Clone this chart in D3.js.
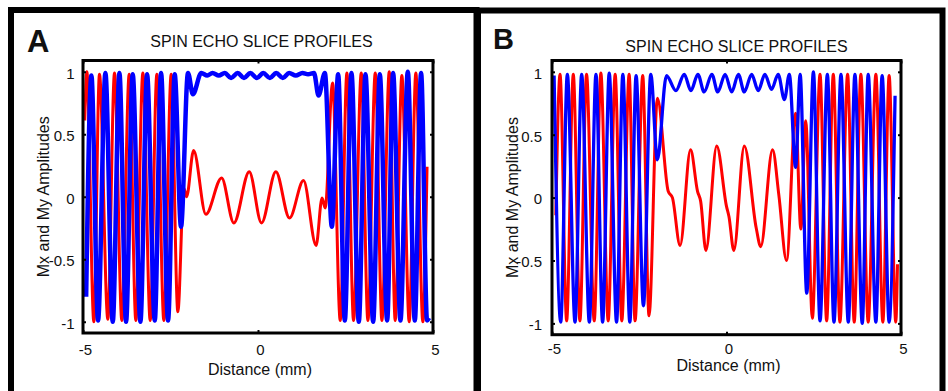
<!DOCTYPE html>
<html>
<head>
<meta charset="utf-8">
<script src="https://cdn.jsdelivr.net/npm/d3@7"></script>
<style>
  body { margin: 0; background: #fff; }
  text { font-family: "Liberation Sans", Arial, sans-serif; fill: #111; }
</style>
</head>
<body>
<div id="chart"></div>
<script>
// tick labels shared by both panels
const xTicks = [-5, 0, 5];
const yTicks = [-1, -0.5, 0, 0.5, 1];

// panel A, [distance mm, amplitude]
const aRed = [
  [-4.95, 0.61], [-4.89, 1.00], [-4.69, -1.00], [-4.53, 0.98], [-4.29, -0.98], [-4.10, 0.99],
  [-3.89, -0.99], [-3.68, 0.98], [-3.49, -0.99], [-3.29, 0.99], [-3.08, -0.99], [-2.89, 0.98],
  [-2.69, -0.99], [-2.48, 0.98], [-2.29, -0.92], [-2.12, 0.07], [-2.04, 0.00], [-1.84, 0.37],
  [-1.49, -0.14], [-1.04, 0.15], [-0.69, -0.21], [-0.25, 0.20], [0.10, -0.21], [0.51, 0.20],
  [0.90, -0.17], [1.30, 0.13], [1.66, -0.39], [1.83, -0.01], [1.92, -0.09], [2.13, 0.91],
  [2.35, -0.99], [2.54, 0.99], [2.73, -0.99], [2.95, 0.99], [3.14, -0.99], [3.35, 0.99],
  [3.54, -0.99], [3.75, 1.00], [3.92, -0.99], [4.11, 0.97], [4.32, -1.00], [4.51, 0.99],
  [4.71, -1.00], [4.83, 0.24]
];
const aBlue = [
  [-4.91, -0.80], [-4.76, 0.97], [-4.57, -0.99], [-4.36, 0.99], [-4.15, -1.00], [-3.96, 0.99],
  [-3.77, -1.00], [-3.58, 0.98], [-3.36, -1.00], [-3.17, 0.98], [-2.95, -0.99], [-2.77, 0.99],
  [-2.57, -0.99], [-2.38, 0.98], [-2.20, -0.24], [-2.00, 0.99], [-1.86, 0.82], [-1.62, 0.99],
  [-1.45, 0.97], [-1.30, 0.99], [-1.12, 0.97], [-0.95, 0.99], [-0.77, 0.95], [-0.58, 0.99],
  [-0.40, 0.95], [-0.22, 0.99], [-0.03, 0.95], [0.15, 0.99], [0.34, 0.95], [0.52, 0.99],
  [0.71, 0.95], [0.89, 0.99], [1.08, 0.97], [1.27, 0.99], [1.43, 0.98], [1.60, 0.99],
  [1.73, 0.81], [1.91, 0.99], [2.11, -0.24], [2.29, 0.98], [2.48, -0.99], [2.67, 0.99],
  [2.88, -1.00], [3.07, 0.98], [3.29, -1.00], [3.48, 0.98], [3.69, -0.99], [3.86, 0.99],
  [4.07, -0.99], [4.28, 1.00], [4.48, -0.99], [4.66, 0.99], [4.83, -0.99], [4.89, -0.97]
];

// panel B
const bRed = [
  [-4.89, -0.14], [-4.77, 0.98], [-4.58, -0.98], [-4.39, 0.98], [-4.20, -0.98], [-4.01, 0.98],
  [-3.79, -0.98], [-3.60, 0.99], [-3.39, -0.98], [-3.19, 0.98], [-3.00, -0.98], [-2.79, 0.98],
  [-2.62, -0.98], [-2.40, 0.97], [-2.22, -0.94], [-1.98, 0.79], [-1.67, 0.05], [-1.55, 0.00],
  [-1.33, -0.38], [-1.03, 0.38], [-0.83, 0.05], [-0.74, -0.03], [-0.59, -0.42], [-0.28, 0.41],
  [0.00, -0.07], [0.07, -0.15], [0.21, -0.42], [0.51, 0.41], [0.85, -0.24], [0.98, -0.39],
  [1.32, 0.38], [1.50, 0.02], [1.72, -0.50], [1.98, 0.67], [2.13, -0.25], [2.27, 0.61],
  [2.46, -0.96], [2.68, 0.98], [2.87, -0.98], [3.06, 0.98], [3.25, -0.99], [3.47, 0.98],
  [3.66, -0.99], [3.85, 0.98], [4.06, -0.99], [4.28, 0.98], [4.48, -0.99], [4.66, 0.97],
  [4.85, -0.99], [4.90, -0.53]
];
const bBlue = [
  [-4.94, 0.97], [-4.75, -0.99], [-4.56, 0.98], [-4.34, -0.99], [-4.15, 0.98], [-3.93, -0.99],
  [-3.74, 0.98], [-3.55, -0.99], [-3.36, 0.99], [-3.15, -0.99], [-2.97, 0.98], [-2.77, -0.99],
  [-2.59, 0.97], [-2.38, -0.86], [-2.17, 0.98], [-1.98, 0.30], [-1.72, 0.97], [-1.45, 0.85],
  [-1.21, 0.98], [-1.02, 0.85], [-0.82, 0.98], [-0.64, 0.84], [-0.42, 0.98], [-0.25, 0.84],
  [-0.04, 0.98], [0.15, 0.84], [0.34, 0.98], [0.51, 0.84], [0.72, 0.98], [0.91, 0.85],
  [1.10, 0.98], [1.29, 0.86], [1.48, 0.98], [1.66, 0.78], [1.80, 0.98], [1.98, 0.24],
  [2.11, 0.98], [2.30, -0.76], [2.49, 1.00], [2.68, -0.98], [2.89, 0.98], [3.08, -0.99],
  [3.28, 0.98], [3.49, -0.99], [3.68, 0.98], [3.89, -1.00], [4.06, 0.98], [4.28, -0.99],
  [4.46, 0.97], [4.66, -0.99], [4.83, 0.81]
];

const width = 948;
const height = 391;

const svg = d3.select("#chart")
  .append("svg")
  .attr("width", width)
  .attr("height", height);

svg.append("rect").attr("width", width).attr("height", height).attr("fill", "#fff");

// layout of each panel (frame, plot box, text spots)
const panels = [
  {
    letter: "A", red: aRed, blue: aBlue, blueWidth: 4.5, redWidth: 3,
    frame: { x: 11, y: 10, w: 465.5, stroke: 6 },
    left: 83, right: 433, top: 60.5, bottom: 333,
    letterX: 27, letterY: 52, letterSize: 31,
    titleX: 261.5, titleY: 47,
    xLabelY: 374.5, yLabelX: 49, xTickY: 355, yTickRight: 74.5
  },
  {
    letter: "B", red: bRed, blue: bBlue, blueWidth: 3.3, redWidth: 3,
    frame: { x: 478, y: 10.5, w: 464.5, stroke: 6 },
    left: 552, right: 901, top: 60.5, bottom: 334.7,
    letterX: 493, letterY: 49, letterSize: 29,
    titleX: 736.5, titleY: 52,
    xLabelY: 371, yLabelX: 518, xTickY: 354, yTickRight: 542
  }
];

panels.forEach(p => {
  const g = svg.append("g");

  // outer frame, its bottom edge runs off the picture
  g.append("rect")
    .attr("x", p.frame.x)
    .attr("y", p.frame.y)
    .attr("width", p.frame.w)
    .attr("height", 420)
    .attr("fill", "none")
    .attr("stroke", "#000")
    .attr("stroke-width", p.frame.stroke);

  const x = d3.scaleLinear().domain([-5, 5]).range([p.left, p.right]);
  const y = d3.scaleLinear().domain([-1.09, 1.09]).range([p.bottom, p.top]);

  const line = d3.line()
    .x(d => x(d[0]))
    .y(d => y(d[1]))
    .curve(d3.curveMonotoneX);

  g.append("path").datum(p.red)
    .attr("d", line)
    .attr("fill", "none")
    .attr("stroke", "#ff0000")
    .attr("stroke-width", p.redWidth)
    .attr("stroke-linejoin", "round");

  g.append("path").datum(p.blue)
    .attr("d", line)
    .attr("fill", "none")
    .attr("stroke", "#0000ff")
    .attr("stroke-width", p.blueWidth)
    .attr("stroke-linejoin", "round");

  // plot box
  g.append("rect")
    .attr("x", p.left)
    .attr("y", p.top)
    .attr("width", p.right - p.left)
    .attr("height", p.bottom - p.top)
    .attr("fill", "none")
    .attr("stroke", "#000")
    .attr("stroke-width", 3);

  const fmt = d => String(d);

  // inward ticks on all four sides, labels on bottom and left
  const xb = g.append("g")
    .attr("transform", `translate(0,${p.bottom})`)
    .call(d3.axisBottom(x).tickValues(xTicks).tickSize(-3).tickFormat(fmt));
  xb.selectAll("text")
    .attr("y", p.xTickY - p.bottom)
    .attr("dy", null)
    .attr("x", 2);

  g.append("g")
    .attr("transform", `translate(0,${p.top})`)
    .call(d3.axisTop(x).tickValues(xTicks).tickSize(-3).tickFormat(""));

  const yl = g.append("g")
    .attr("transform", `translate(${p.left},0)`)
    .call(d3.axisLeft(y).tickValues(yTicks).tickSize(-3).tickFormat(fmt));
  yl.selectAll("text")
    .attr("x", p.yTickRight - p.left)
    .attr("y", 1.5);

  g.append("g")
    .attr("transform", `translate(${p.right},0)`)
    .call(d3.axisRight(y).tickValues(yTicks).tickSize(-3).tickFormat(""));

  g.selectAll(".domain").remove();
  g.selectAll(".tick line").attr("stroke", "#000").attr("stroke-width", 2);
  g.selectAll(".tick text")
    .attr("font-size", 15)
    .attr("font-family", "Liberation Sans, Arial, sans-serif")
    .attr("fill", "#111");

  // panel letter, title, axis labels
  g.append("text")
    .attr("x", p.letterX)
    .attr("y", p.letterY)
    .attr("font-size", p.letterSize)
    .attr("font-weight", "bold")
    .attr("fill", "#000")
    .text(p.letter);

  g.append("text")
    .attr("x", p.titleX)
    .attr("y", p.titleY)
    .attr("text-anchor", "middle")
    .attr("font-size", 16)
    .text("SPIN ECHO SLICE PROFILES");

  g.append("text")
    .attr("x", (p.left + p.right) / 2 + 2)
    .attr("y", p.xLabelY)
    .attr("text-anchor", "middle")
    .attr("font-size", 16)
    .text("Distance (mm)");

  g.append("text")
    .attr("transform", `translate(${p.yLabelX},${(p.top + p.bottom) / 2}) rotate(-90)`)
    .attr("text-anchor", "middle")
    .attr("font-size", 16)
    .text("Mx and My Amplitudes");
});
</script>
</body>
</html>
